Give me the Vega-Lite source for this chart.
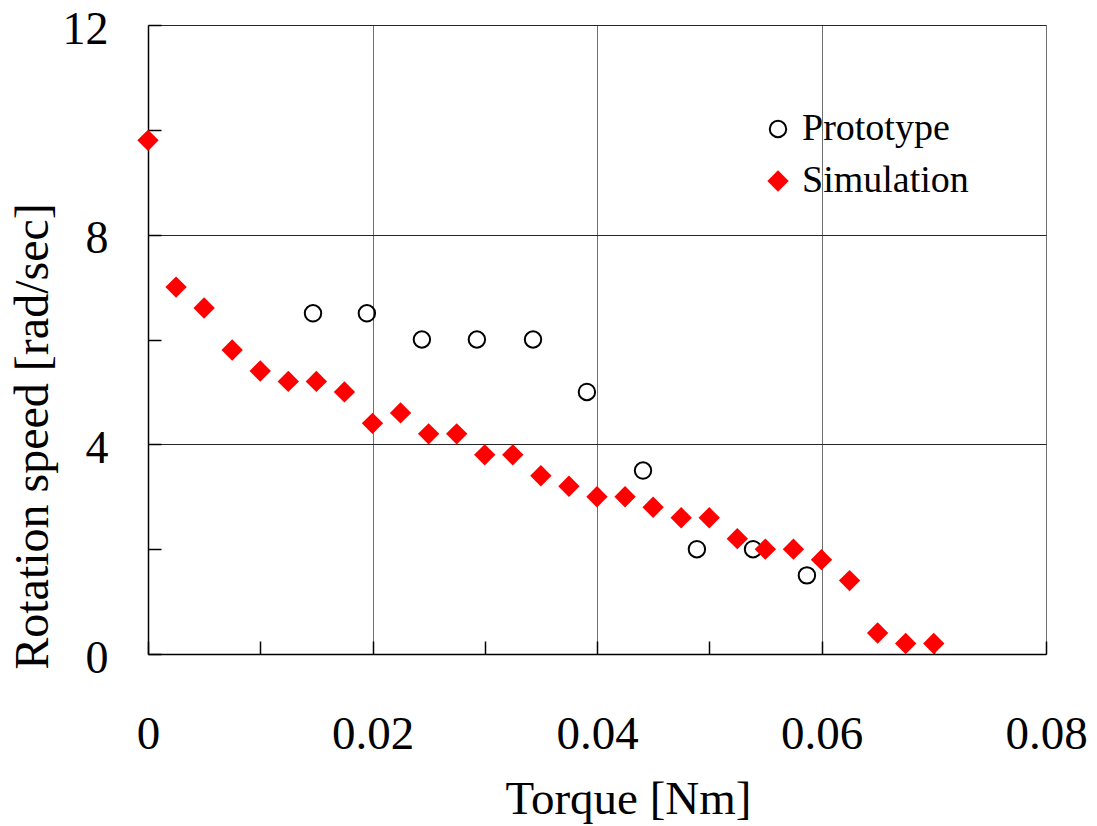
{
  "$schema": "https://vega.github.io/schema/vega-lite/v6.json",
  "width": 898,
  "height": 629,
  "autosize": {"type": "none"},
  "padding": {"left": 148, "top": 25, "right": 51, "bottom": 172},
  "background": "white",
  "config": {
    "view": {"stroke": null},
    "font": "Liberation Serif",
    "axis": {
      "labelFont": "Liberation Serif",
      "titleFont": "Liberation Serif",
      "labelColor": "black",
      "titleColor": "black",
      "titleFontWeight": "normal",
      "domainColor": "black",
      "domainWidth": 1.5,
      "tickColor": "black",
      "tickWidth": 1.5,
      "tickSize": -13,
      "labelFlush": false,
      "labelOverlap": false,
      "gridWidth": 1
    }
  },
  "data": {
    "values": [
      {"series": "Prototype", "torque": 0.0147, "speed": 6.5},
      {"series": "Prototype", "torque": 0.0195, "speed": 6.5},
      {"series": "Prototype", "torque": 0.0244, "speed": 6.0},
      {"series": "Prototype", "torque": 0.0293, "speed": 6.0},
      {"series": "Prototype", "torque": 0.0343, "speed": 6.0},
      {"series": "Prototype", "torque": 0.0391, "speed": 5.0},
      {"series": "Prototype", "torque": 0.0441, "speed": 3.5},
      {"series": "Prototype", "torque": 0.0489, "speed": 2.0},
      {"series": "Prototype", "torque": 0.0539, "speed": 2.0},
      {"series": "Prototype", "torque": 0.0587, "speed": 1.5},
      {"series": "Simulation", "torque": 0.0, "speed": 9.8},
      {"series": "Simulation", "torque": 0.0025, "speed": 7.0},
      {"series": "Simulation", "torque": 0.005, "speed": 6.6},
      {"series": "Simulation", "torque": 0.0075, "speed": 5.8},
      {"series": "Simulation", "torque": 0.01, "speed": 5.4},
      {"series": "Simulation", "torque": 0.0125, "speed": 5.2},
      {"series": "Simulation", "torque": 0.015, "speed": 5.2},
      {"series": "Simulation", "torque": 0.0175, "speed": 5.0},
      {"series": "Simulation", "torque": 0.02, "speed": 4.4},
      {"series": "Simulation", "torque": 0.0225, "speed": 4.6},
      {"series": "Simulation", "torque": 0.025, "speed": 4.2},
      {"series": "Simulation", "torque": 0.0275, "speed": 4.2},
      {"series": "Simulation", "torque": 0.03, "speed": 3.8},
      {"series": "Simulation", "torque": 0.0325, "speed": 3.8},
      {"series": "Simulation", "torque": 0.035, "speed": 3.4},
      {"series": "Simulation", "torque": 0.0375, "speed": 3.2},
      {"series": "Simulation", "torque": 0.04, "speed": 3.0},
      {"series": "Simulation", "torque": 0.0425, "speed": 3.0},
      {"series": "Simulation", "torque": 0.045, "speed": 2.8},
      {"series": "Simulation", "torque": 0.0475, "speed": 2.6},
      {"series": "Simulation", "torque": 0.05, "speed": 2.6},
      {"series": "Simulation", "torque": 0.0525, "speed": 2.2},
      {"series": "Simulation", "torque": 0.055, "speed": 2.0},
      {"series": "Simulation", "torque": 0.0575, "speed": 2.0},
      {"series": "Simulation", "torque": 0.06, "speed": 1.8},
      {"series": "Simulation", "torque": 0.0625, "speed": 1.4},
      {"series": "Simulation", "torque": 0.065, "speed": 0.4},
      {"series": "Simulation", "torque": 0.0675, "speed": 0.2},
      {"series": "Simulation", "torque": 0.07, "speed": 0.2}
    ]
  },
  "mark": {"type": "point", "strokeWidth": 2, "opacity": 1, "size": 270},
  "encoding": {
    "x": {
      "field": "torque",
      "type": "quantitative",
      "scale": {"domain": [0, 0.08], "nice": false, "zero": false},
      "axis": {
        "title": "Torque [Nm]",
        "values": [0, 0.01, 0.02, 0.03, 0.04, 0.05, 0.06, 0.07, 0.08],
        "labelExpr": "round(datum.value*100) % 2 === 0 ? (datum.value === 0 ? '0' : format(datum.value, '.2f')) : ''",
        "labelFontSize": 47,
        "labelBaseline": "alphabetic",
        "labelPadding": 107,
        "titleFontSize": 47,
        "titleX": 480,
        "titleY": 159,
        "titleBaseline": "alphabetic",
        "titleAlign": "center",
        "gridColor": "#6f6f6f",
        "gridOpacity": {"condition": {"test": "round(datum.value*100) % 2 === 0 && datum.value > 0", "value": 1}, "value": 0}
      }
    },
    "y": {
      "field": "speed",
      "type": "quantitative",
      "scale": {"domain": [0, 12], "nice": false, "zero": false},
      "axis": {
        "title": "Rotation speed [rad/sec]",
        "values": [0, 2, 4, 6, 8, 10, 12],
        "labelExpr": "datum.value % 4 === 0 ? datum.label : ''",
        "labelFontSize": 46,
        "labelAlign": "right",
        "labelBaseline": "middle",
        "labelPadding": 53,
        "labelOffset": 4,
        "titleFontSize": 48,
        "titleAngle": -90,
        "titleX": -115,
        "titleY": 411,
        "titleBaseline": "middle",
        "titleAlign": "center",
        "gridColor": "#262626",
        "gridOpacity": {"condition": {"test": "datum.value % 4 === 0 && datum.value > 0", "value": 1}, "value": 0}
      }
    },
    "shape": {
      "field": "series",
      "type": "nominal",
      "scale": {"domain": ["Prototype", "Simulation"], "range": ["circle", "M -1.3 0 L 0 -1.3 L 1.3 0 L 0 1.3 Z"]},
      "legend": {"title": null, "orient": "none", "legendX": 611, "legendY": 85, "labelFontSize": 38, "labelFont": "Liberation Serif", "labelColor": "black", "labelLimit": 0, "symbolSize": 270, "symbolStrokeWidth": 2, "labelOffset": 5, "rowPadding": 14, "symbolOpacity": 1}
    },
    "fill": {
      "field": "series",
      "type": "nominal",
      "scale": {"domain": ["Prototype", "Simulation"], "range": ["transparent", "#ff0000"]},
      "legend": {"title": null, "orient": "none", "legendX": 611, "legendY": 85, "labelFontSize": 38, "labelFont": "Liberation Serif", "labelColor": "black", "labelLimit": 0, "symbolSize": 270, "symbolStrokeWidth": 2, "labelOffset": 5, "rowPadding": 14, "symbolOpacity": 1}
    },
    "stroke": {
      "field": "series",
      "type": "nominal",
      "scale": {"domain": ["Prototype", "Simulation"], "range": ["#000000", "transparent"]},
      "legend": {"title": null, "orient": "none", "legendX": 611, "legendY": 85, "labelFontSize": 38, "labelFont": "Liberation Serif", "labelColor": "black", "labelLimit": 0, "symbolSize": 270, "symbolStrokeWidth": 2, "labelOffset": 5, "rowPadding": 14, "symbolOpacity": 1}
    }
  }
}
